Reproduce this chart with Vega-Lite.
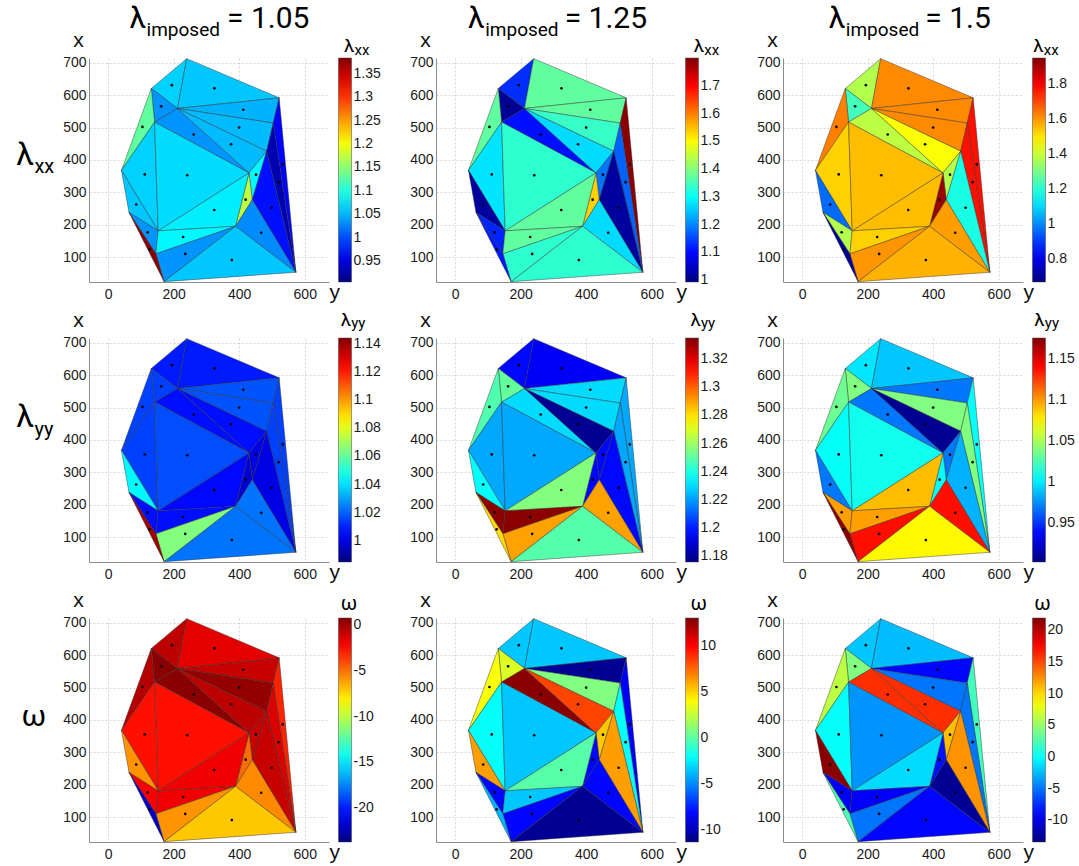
{
"$schema": "https://vega.github.io/schema/vega-lite/v6.json",
"padding": {"left": 16, "top": 4, "right": 4, "bottom": 4},
"background": "white",
"config": {
 "view": {"stroke": null},
 "axis": {"labelFont": "Liberation Sans", "labelFontSize": 14, "labelColor": "#1a1a1a", "labelOverlap": false, "labelFlush": false, "tickCount": 12, "titleFont": "Liberation Sans", "titleFontWeight": "normal", "titleColor": "#111111", "titleFontSize": 21, "domainColor": "#8c8c8c", "grid": true, "gridColor": "#cccccc", "gridDash": [2, 2], "gridWidth": 0.8, "ticks": false, "tickSize": 0},
 "axisX": {"labelPadding": 5, "titleAngle": 0, "titleAlign": "left", "titleBaseline": "alphabetic", "titleX": 240, "titleY": 16},
 "axisY": {"labelPadding": 3, "titleAngle": 0, "titleAlign": "center", "titleBaseline": "alphabetic", "titleX": -11, "titleY": -11.7},
 "legend": {"padding": 0, "labelFont": "Liberation Sans", "labelFontSize": 14, "labelColor": "#1a1a1a", "labelOffset": 3, "labelOverlap": false, "gradientStrokeColor": "#444444", "gradientStrokeWidth": 0.5}
},
"datasets": {
 "mesh": [
  {"tri":1,"k":1,"y":240,"x":713},{"tri":1,"k":2,"y":132,"x":621},{"tri":1,"k":3,"y":212,"x":559},
  {"tri":2,"k":1,"y":240,"x":713},{"tri":2,"k":2,"y":212,"x":559},{"tri":2,"k":3,"y":522,"x":592},
  {"tri":3,"k":1,"y":132,"x":621},{"tri":3,"k":2,"y":212,"x":559},{"tri":3,"k":3,"y":142,"x":517},
  {"tri":4,"k":1,"y":212,"x":559},{"tri":4,"k":2,"y":522,"x":592},{"tri":4,"k":3,"y":504,"x":514},
  {"tri":5,"k":1,"y":132,"x":621},{"tri":5,"k":2,"y":142,"x":517},{"tri":5,"k":3,"y":41,"x":368},
  {"tri":6,"k":1,"y":212,"x":559},{"tri":6,"k":2,"y":142,"x":517},{"tri":6,"k":3,"y":430,"x":360},
  {"tri":7,"k":1,"y":212,"x":559},{"tri":7,"k":2,"y":504,"x":514},{"tri":7,"k":3,"y":484,"x":427},
  {"tri":8,"k":1,"y":212,"x":559},{"tri":8,"k":2,"y":484,"x":427},{"tri":8,"k":3,"y":430,"x":360},
  {"tri":9,"k":1,"y":142,"x":517},{"tri":9,"k":2,"y":41,"x":368},{"tri":9,"k":3,"y":153,"x":181},
  {"tri":10,"k":1,"y":142,"x":517},{"tri":10,"k":2,"y":430,"x":360},{"tri":10,"k":3,"y":153,"x":181},
  {"tri":11,"k":1,"y":484,"x":427},{"tri":11,"k":2,"y":430,"x":360},{"tri":11,"k":3,"y":440,"x":277},
  {"tri":12,"k":1,"y":522,"x":592},{"tri":12,"k":2,"y":504,"x":514},{"tri":12,"k":3,"y":573,"x":53},
  {"tri":13,"k":1,"y":504,"x":514},{"tri":13,"k":2,"y":484,"x":427},{"tri":13,"k":3,"y":573,"x":53},
  {"tri":14,"k":1,"y":41,"x":368},{"tri":14,"k":2,"y":64,"x":238},{"tri":14,"k":3,"y":153,"x":181},
  {"tri":15,"k":1,"y":430,"x":360},{"tri":15,"k":2,"y":440,"x":277},{"tri":15,"k":3,"y":389,"x":195},
  {"tri":16,"k":1,"y":430,"x":360},{"tri":16,"k":2,"y":153,"x":181},{"tri":16,"k":3,"y":389,"x":195},
  {"tri":17,"k":1,"y":484,"x":427},{"tri":17,"k":2,"y":440,"x":277},{"tri":17,"k":3,"y":573,"x":53},
  {"tri":18,"k":1,"y":64,"x":238},{"tri":18,"k":2,"y":153,"x":181},{"tri":18,"k":3,"y":146,"x":110},
  {"tri":19,"k":1,"y":153,"x":181},{"tri":19,"k":2,"y":389,"x":195},{"tri":19,"k":3,"y":146,"x":110},
  {"tri":20,"k":1,"y":440,"x":277},{"tri":20,"k":2,"y":389,"x":195},{"tri":20,"k":3,"y":573,"x":53},
  {"tri":21,"k":1,"y":389,"x":195},{"tri":21,"k":2,"y":146,"x":110},{"tri":21,"k":3,"y":171,"x":24},
  {"tri":22,"k":1,"y":389,"x":195},{"tri":22,"k":2,"y":171,"x":24},{"tri":22,"k":3,"y":573,"x":53},
  {"tri":23,"k":1,"y":64,"x":238},{"tri":23,"k":2,"y":146,"x":110},{"tri":23,"k":3,"y":171,"x":24}
 ],
 "vals": [
  {"tri":1,"lxx105":1.063,"lxx125":1.130,"lxx150":1.372,"lyy105":1.009,"lyy125":1.197,"lyy150":0.998,"w105":-0.67,"w125":-3.50,"w150":-2.10},
  {"tri":2,"lxx105":1.058,"lxx125":1.372,"lxx150":1.614,"lyy105":1.009,"lyy125":1.195,"lyy150":0.990,"w105":-1.65,"w125":-3.50,"w150":-2.46},
  {"tri":3,"lxx105":1.034,"lxx125":1.009,"lxx150":1.232,"lyy105":1.015,"lyy125":1.251,"lyy150":1.039,"w105":0.55,"w125":3.05,"w150":4.25},
  {"tri":4,"lxx105":1.049,"lxx125":1.372,"lxx150":1.614,"lyy105":1.018,"lyy125":1.230,"lyy150":0.968,"w105":-0.92,"w125":-10.77,"w150":-8.81},
  {"tri":5,"lxx105":1.130,"lxx125":1.372,"lxx150":1.627,"lyy105":1.015,"lyy125":1.248,"lyy150":1.034,"w105":-0.43,"w125":3.78,"w150":6.37},
  {"tri":6,"lxx105":1.034,"lxx125":1.106,"lxx150":1.385,"lyy105":1.007,"lyy125":1.230,"lyy150":0.968,"w105":0.55,"w125":12.76,"w150":15.90},
  {"tri":7,"lxx105":1.053,"lxx125":1.340,"lxx150":1.614,"lyy105":1.018,"lyy125":1.230,"lyy150":1.039,"w105":0.31,"w125":0.87,"w150":-4.93},
  {"tri":8,"lxx105":1.053,"lxx125":1.267,"lxx150":1.461,"lyy105":1.007,"lyy125":1.179,"lyy150":0.907,"w105":-0.67,"w125":8.39,"w150":15.90},
  {"tri":9,"lxx105":1.063,"lxx125":1.275,"lxx150":1.525,"lyy105":1.015,"lyy125":1.222,"lyy150":1.006,"w105":-2.64,"w125":-2.04,"w150":0.01},
  {"tri":10,"lxx105":1.068,"lxx125":1.332,"lxx150":1.550,"lyy105":1.017,"lyy125":1.222,"lyy150":1.009,"w105":-2.64,"w125":-3.50,"w150":-3.87},
  {"tri":11,"lxx105":1.082,"lxx125":1.187,"lxx150":1.372,"lyy105":1.001,"lyy125":1.197,"lyy150":0.968,"w105":-0.92,"w125":5.24,"w150":10.96},
  {"tri":12,"lxx105":0.967,"lxx125":1.792,"lxx150":1.767,"lyy105":1.015,"lyy125":1.222,"lyy150":1.006,"w105":-3.13,"w125":-8.35,"w150":2.13},
  {"tri":13,"lxx105":0.929,"lxx125":1.171,"lxx150":1.767,"lyy105":1.015,"lyy125":1.222,"lyy150":1.039,"w105":-1.41,"w125":-2.04,"w150":-4.93},
  {"tri":14,"lxx105":1.058,"lxx125":1.017,"lxx150":0.965,"lyy105":1.044,"lyy125":1.236,"lyy150":0.968,"w105":-5.83,"w125":6.21,"w150":21.55},
  {"tri":15,"lxx105":1.173,"lxx125":1.534,"lxx150":1.907,"lyy105":0.998,"lyy125":1.197,"lyy150":1.006,"w105":-4.85,"w125":-8.11,"w150":-8.46},
  {"tri":16,"lxx105":1.077,"lxx125":1.372,"lxx150":1.550,"lyy105":1.006,"lyy125":1.256,"lyy150":1.091,"w105":-1.90,"w125":-0.10,"w150":-1.40},
  {"tri":17,"lxx105":0.972,"lxx125":1.017,"lxx150":1.181,"lyy105":1.001,"lyy125":1.197,"lyy150":0.984,"w105":-0.92,"w125":6.21,"w150":12.37},
  {"tri":18,"lxx105":1.034,"lxx125":1.122,"lxx150":1.372,"lyy105":1.007,"lyy125":1.333,"lyy150":1.099,"w105":-2.15,"w125":-8.11,"w150":-9.16},
  {"tri":19,"lxx105":1.082,"lxx125":1.372,"lxx150":1.525,"lyy105":1.007,"lyy125":1.333,"lyy150":1.099,"w105":-1.90,"w125":-3.50,"w150":-9.16},
  {"tri":20,"lxx105":1.030,"lxx125":1.267,"lxx150":1.589,"lyy105":1.023,"lyy125":1.290,"lyy150":1.138,"w105":-5.58,"w125":-8.11,"w150":-12.69},
  {"tri":21,"lxx105":1.034,"lxx125":1.332,"lxx150":1.601,"lyy105":1.065,"lyy125":1.290,"lyy150":1.138,"w105":-5.83,"w125":-8.11,"w150":-4.93},
  {"tri":22,"lxx105":1.058,"lxx125":1.332,"lxx150":1.563,"lyy105":1.023,"lyy125":1.249,"lyy150":1.075,"w105":-7.06,"w125":-10.77,"w150":-8.81},
  {"tri":23,"lxx105":1.379,"lxx125":1.114,"lxx150":0.697,"lyy105":1.139,"lyy125":1.281,"lyy150":1.173,"w105":-22.03,"w125":-3.98,"w150":2.49}
 ]
},
"columns": 3,
"spacing": {"row": 56, "column": 107},
"bounds": "flush",
"resolve": {"scale": {"fill": "independent"}, "legend": {"fill": "independent"}},
"concat": [
 {"width": 240, "height": 224, "layer": [
  {"data": {"name": "mesh"}, "transform": [{"lookup": "tri", "from": {"data": {"name": "vals"}, "key": "tri", "fields": ["lxx105"]}}],
   "mark": {"type": "line", "interpolate": "linear-closed", "stroke": "#303030", "strokeWidth": 0.5, "strokeOpacity": 0.9},
   "encoding": {
    "x": {"field": "y", "type": "quantitative", "scale": {"domain": [-58, 674], "nice": false, "zero": false}, "axis": {"title": "y", "values": [0, 200, 400, 600], "tickCount": 12}},
    "y": {"field": "x", "type": "quantitative", "scale": {"domain": [23, 715], "nice": false, "zero": false}, "axis": {"title": "x", "values": [100, 200, 300, 400, 500, 600, 700], "tickCount": 12}},
    "detail": {"field": "tri", "type": "nominal"}, "order": {"field": "k", "type": "quantitative"},
    "fill": {"field": "lxx105", "type": "quantitative", "scale": {"domain": [0.905,0.9649,1.0248,1.0846,1.1445,1.2044,1.2643,1.3241,1.384], "range": ["#000080","#0000ff","#0080ff","#00ffff","#80ff80","#ffff00","#ff8000","#ff0000","#800000"], "interpolate": "rgb", "zero": false, "nice": false},
     "legend": {"title": null, "orient": "none", "legendX": 249.5, "legendY": 0, "gradientLength": 224, "gradientThickness": 13, "values": [0.95,1,1.05,1.1,1.15,1.2,1.25,1.3,1.35], "labelExpr": "datum.value + ''"}}
   }},
  {"data": {"name": "mesh"}, "mark": {"type": "circle", "size": 7, "color": "#000000", "opacity": 1},
   "encoding": {"x": {"aggregate": "mean", "field": "y", "type": "quantitative"}, "y": {"aggregate": "mean", "field": "x", "type": "quantitative"}, "detail": {"field": "tri", "type": "nominal"}}},
  {"data": {"values": [{}]}, "mark": {"type": "text", "text": "λ", "font": "Roboto", "fontSize": 19, "align": "left", "baseline": "alphabetic", "dx": 15, "dy": -5.7, "color": "#000000"}, "encoding": {"x": {"datum": 674}, "y": {"datum": 715}}},
  {"data": {"values": [{}]}, "mark": {"type": "text", "text": "xx", "font": "Roboto", "fontSize": 15, "align": "left", "baseline": "alphabetic", "dx": 25.5, "dy": -3.3, "color": "#000000"}, "encoding": {"x": {"datum": 674}, "y": {"datum": 715}}},
  {"data": {"values": [{}]}, "mark": {"type": "text", "text": "λ", "font": "Roboto", "fontSize": 30, "align": "right", "baseline": "alphabetic", "dy": -30, "color": "#000000"}, "encoding": {"x": {"datum": 116}, "y": {"datum": 715}}},
  {"data": {"values": [{}]}, "mark": {"type": "text", "text": "imposed", "font": "Roboto", "fontSize": 19, "align": "left", "baseline": "alphabetic", "dx": 0.5, "dy": -22.3, "color": "#000000"}, "encoding": {"x": {"datum": 116}, "y": {"datum": 715}}},
  {"data": {"values": [{}]}, "mark": {"type": "text", "text": "= 1.05", "font": "Roboto", "fontSize": 30, "align": "left", "baseline": "alphabetic", "dx": 81, "dy": -30, "color": "#000000"}, "encoding": {"x": {"datum": 116}, "y": {"datum": 715}}},
  {"data": {"values": [{}]}, "mark": {"type": "text", "text": "λ", "font": "Roboto", "fontSize": 32, "align": "right", "baseline": "alphabetic", "dy": 106.7, "color": "#000000"}, "encoding": {"x": {"datum": -226}, "y": {"datum": 715}}},
  {"data": {"values": [{}]}, "mark": {"type": "text", "text": "xx", "font": "Roboto", "fontSize": 20, "align": "left", "baseline": "alphabetic", "dx": 0.5, "dy": 115, "color": "#000000"}, "encoding": {"x": {"datum": -226}, "y": {"datum": 715}}}
 ]},
 {"width": 240, "height": 224, "layer": [
  {"data": {"name": "mesh"}, "transform": [{"lookup": "tri", "from": {"data": {"name": "vals"}, "key": "tri", "fields": ["lxx125"]}}],
   "mark": {"type": "line", "interpolate": "linear-closed", "stroke": "#303030", "strokeWidth": 0.5, "strokeOpacity": 0.9},
   "encoding": {
    "x": {"field": "y", "type": "quantitative", "scale": {"domain": [-58, 674], "nice": false, "zero": false}, "axis": {"title": "y", "values": [0, 200, 400, 600], "tickCount": 12}},
    "y": {"field": "x", "type": "quantitative", "scale": {"domain": [23, 715], "nice": false, "zero": false}, "axis": {"title": "x", "values": [100, 200, 300, 400, 500, 600, 700], "tickCount": 12}},
    "detail": {"field": "tri", "type": "nominal"}, "order": {"field": "k", "type": "quantitative"},
    "fill": {"field": "lxx125", "type": "quantitative", "scale": {"domain": [0.993,1.0939,1.1948,1.2956,1.3965,1.4974,1.5983,1.6991,1.8], "range": ["#000080","#0000ff","#0080ff","#00ffff","#80ff80","#ffff00","#ff8000","#ff0000","#800000"], "interpolate": "rgb", "zero": false, "nice": false},
     "legend": {"title": null, "orient": "none", "legendX": 249.5, "legendY": 0, "gradientLength": 224, "gradientThickness": 13, "values": [1,1.1,1.2,1.3,1.4,1.5,1.6,1.7], "labelExpr": "datum.value + ''"}}
   }},
  {"data": {"name": "mesh"}, "mark": {"type": "circle", "size": 7, "color": "#000000", "opacity": 1},
   "encoding": {"x": {"aggregate": "mean", "field": "y", "type": "quantitative"}, "y": {"aggregate": "mean", "field": "x", "type": "quantitative"}, "detail": {"field": "tri", "type": "nominal"}}},
  {"data": {"values": [{}]}, "mark": {"type": "text", "text": "λ", "font": "Roboto", "fontSize": 19, "align": "left", "baseline": "alphabetic", "dx": 17.7, "dy": -5.7, "color": "#000000"}, "encoding": {"x": {"datum": 674}, "y": {"datum": 715}}},
  {"data": {"values": [{}]}, "mark": {"type": "text", "text": "xx", "font": "Roboto", "fontSize": 15, "align": "left", "baseline": "alphabetic", "dx": 28.2, "dy": -3.3, "color": "#000000"}, "encoding": {"x": {"datum": 674}, "y": {"datum": 715}}},
  {"data": {"values": [{}]}, "mark": {"type": "text", "text": "λ", "font": "Roboto", "fontSize": 30, "align": "right", "baseline": "alphabetic", "dy": -30, "color": "#000000"}, "encoding": {"x": {"datum": 90.5}, "y": {"datum": 715}}},
  {"data": {"values": [{}]}, "mark": {"type": "text", "text": "imposed", "font": "Roboto", "fontSize": 19, "align": "left", "baseline": "alphabetic", "dx": 0.5, "dy": -22.3, "color": "#000000"}, "encoding": {"x": {"datum": 90.5}, "y": {"datum": 715}}},
  {"data": {"values": [{}]}, "mark": {"type": "text", "text": "= 1.25", "font": "Roboto", "fontSize": 30, "align": "left", "baseline": "alphabetic", "dx": 80, "dy": -30, "color": "#000000"}, "encoding": {"x": {"datum": 90.5}, "y": {"datum": 715}}}
 ]},
 {"width": 240, "height": 224, "layer": [
  {"data": {"name": "mesh"}, "transform": [{"lookup": "tri", "from": {"data": {"name": "vals"}, "key": "tri", "fields": ["lxx150"]}}],
   "mark": {"type": "line", "interpolate": "linear-closed", "stroke": "#303030", "strokeWidth": 0.5, "strokeOpacity": 0.9},
   "encoding": {
    "x": {"field": "y", "type": "quantitative", "scale": {"domain": [-58, 674], "nice": false, "zero": false}, "axis": {"title": "y", "values": [0, 200, 400, 600], "tickCount": 12}},
    "y": {"field": "x", "type": "quantitative", "scale": {"domain": [23, 715], "nice": false, "zero": false}, "axis": {"title": "x", "values": [100, 200, 300, 400, 500, 600, 700], "tickCount": 12}},
    "detail": {"field": "tri", "type": "nominal"}, "order": {"field": "k", "type": "quantitative"},
    "fill": {"field": "lxx150", "type": "quantitative", "scale": {"domain": [0.672,0.8311,0.9903,1.1494,1.3085,1.4676,1.6268,1.7859,1.945], "range": ["#000080","#0000ff","#0080ff","#00ffff","#80ff80","#ffff00","#ff8000","#ff0000","#800000"], "interpolate": "rgb", "zero": false, "nice": false},
     "legend": {"title": null, "orient": "none", "legendX": 249.5, "legendY": 0, "gradientLength": 224, "gradientThickness": 13, "values": [0.8,1,1.2,1.4,1.6,1.8], "labelExpr": "datum.value + ''"}}
   }},
  {"data": {"name": "mesh"}, "mark": {"type": "circle", "size": 7, "color": "#000000", "opacity": 1},
   "encoding": {"x": {"aggregate": "mean", "field": "y", "type": "quantitative"}, "y": {"aggregate": "mean", "field": "x", "type": "quantitative"}, "detail": {"field": "tri", "type": "nominal"}}},
  {"data": {"values": [{}]}, "mark": {"type": "text", "text": "λ", "font": "Roboto", "fontSize": 19, "align": "left", "baseline": "alphabetic", "dx": 10.3, "dy": -5.7, "color": "#000000"}, "encoding": {"x": {"datum": 674}, "y": {"datum": 715}}},
  {"data": {"values": [{}]}, "mark": {"type": "text", "text": "xx", "font": "Roboto", "fontSize": 15, "align": "left", "baseline": "alphabetic", "dx": 20.8, "dy": -3.3, "color": "#000000"}, "encoding": {"x": {"datum": 674}, "y": {"datum": 715}}},
  {"data": {"values": [{}]}, "mark": {"type": "text", "text": "λ", "font": "Roboto", "fontSize": 30, "align": "right", "baseline": "alphabetic", "dy": -30, "color": "#000000"}, "encoding": {"x": {"datum": 132}, "y": {"datum": 715}}},
  {"data": {"values": [{}]}, "mark": {"type": "text", "text": "imposed", "font": "Roboto", "fontSize": 19, "align": "left", "baseline": "alphabetic", "dx": 0.5, "dy": -22.3, "color": "#000000"}, "encoding": {"x": {"datum": 132}, "y": {"datum": 715}}},
  {"data": {"values": [{}]}, "mark": {"type": "text", "text": "= 1.5", "font": "Roboto", "fontSize": 30, "align": "left", "baseline": "alphabetic", "dx": 80, "dy": -30, "color": "#000000"}, "encoding": {"x": {"datum": 132}, "y": {"datum": 715}}}
 ]},
 {"width": 240, "height": 224, "layer": [
  {"data": {"name": "mesh"}, "transform": [{"lookup": "tri", "from": {"data": {"name": "vals"}, "key": "tri", "fields": ["lyy105"]}}],
   "mark": {"type": "line", "interpolate": "linear-closed", "stroke": "#303030", "strokeWidth": 0.5, "strokeOpacity": 0.9},
   "encoding": {
    "x": {"field": "y", "type": "quantitative", "scale": {"domain": [-58, 674], "nice": false, "zero": false}, "axis": {"title": "y", "values": [0, 200, 400, 600], "tickCount": 12}},
    "y": {"field": "x", "type": "quantitative", "scale": {"domain": [23, 715], "nice": false, "zero": false}, "axis": {"title": "x", "values": [100, 200, 300, 400, 500, 600, 700], "tickCount": 12}},
    "detail": {"field": "tri", "type": "nominal"}, "order": {"field": "k", "type": "quantitative"},
    "fill": {"field": "lyy105", "type": "quantitative", "scale": {"domain": [0.985,1.0049,1.0248,1.0446,1.0645,1.0844,1.1043,1.1241,1.144], "range": ["#000080","#0000ff","#0080ff","#00ffff","#80ff80","#ffff00","#ff8000","#ff0000","#800000"], "interpolate": "rgb", "zero": false, "nice": false},
     "legend": {"title": null, "orient": "none", "legendX": 249.5, "legendY": 0, "gradientLength": 224, "gradientThickness": 13, "values": [1,1.02,1.04,1.06,1.08,1.1,1.12,1.14], "labelExpr": "datum.value + ''"}}
   }},
  {"data": {"name": "mesh"}, "mark": {"type": "circle", "size": 7, "color": "#000000", "opacity": 1},
   "encoding": {"x": {"aggregate": "mean", "field": "y", "type": "quantitative"}, "y": {"aggregate": "mean", "field": "x", "type": "quantitative"}, "detail": {"field": "tri", "type": "nominal"}}},
  {"data": {"values": [{}]}, "mark": {"type": "text", "text": "λ", "font": "Roboto", "fontSize": 19, "align": "left", "baseline": "alphabetic", "dx": 11.7, "dy": -12, "color": "#000000"}, "encoding": {"x": {"datum": 674}, "y": {"datum": 715}}},
  {"data": {"values": [{}]}, "mark": {"type": "text", "text": "yy", "font": "Roboto", "fontSize": 15, "align": "left", "baseline": "alphabetic", "dx": 22.2, "dy": -10.5, "color": "#000000"}, "encoding": {"x": {"datum": 674}, "y": {"datum": 715}}},
  {"data": {"values": [{}]}, "mark": {"type": "text", "text": "λ", "font": "Roboto", "fontSize": 32, "align": "right", "baseline": "alphabetic", "dy": 89, "color": "#000000"}, "encoding": {"x": {"datum": -226}, "y": {"datum": 715}}},
  {"data": {"values": [{}]}, "mark": {"type": "text", "text": "yy", "font": "Roboto", "fontSize": 20, "align": "left", "baseline": "alphabetic", "dx": 0.5, "dy": 98, "color": "#000000"}, "encoding": {"x": {"datum": -226}, "y": {"datum": 715}}}
 ]},
 {"width": 240, "height": 224, "layer": [
  {"data": {"name": "mesh"}, "transform": [{"lookup": "tri", "from": {"data": {"name": "vals"}, "key": "tri", "fields": ["lyy125"]}}],
   "mark": {"type": "line", "interpolate": "linear-closed", "stroke": "#303030", "strokeWidth": 0.5, "strokeOpacity": 0.9},
   "encoding": {
    "x": {"field": "y", "type": "quantitative", "scale": {"domain": [-58, 674], "nice": false, "zero": false}, "axis": {"title": "y", "values": [0, 200, 400, 600], "tickCount": 12}},
    "y": {"field": "x", "type": "quantitative", "scale": {"domain": [23, 715], "nice": false, "zero": false}, "axis": {"title": "x", "values": [100, 200, 300, 400, 500, 600, 700], "tickCount": 12}},
    "detail": {"field": "tri", "type": "nominal"}, "order": {"field": "k", "type": "quantitative"},
    "fill": {"field": "lyy125", "type": "quantitative", "scale": {"domain": [1.176,1.1959,1.2158,1.2356,1.2555,1.2754,1.2953,1.3151,1.335], "range": ["#000080","#0000ff","#0080ff","#00ffff","#80ff80","#ffff00","#ff8000","#ff0000","#800000"], "interpolate": "rgb", "zero": false, "nice": false},
     "legend": {"title": null, "orient": "none", "legendX": 249.5, "legendY": 0, "gradientLength": 224, "gradientThickness": 13, "values": [1.18,1.2,1.22,1.24,1.26,1.28,1.3,1.32], "labelExpr": "datum.value + ''"}}
   }},
  {"data": {"name": "mesh"}, "mark": {"type": "circle", "size": 7, "color": "#000000", "opacity": 1},
   "encoding": {"x": {"aggregate": "mean", "field": "y", "type": "quantitative"}, "y": {"aggregate": "mean", "field": "x", "type": "quantitative"}, "detail": {"field": "tri", "type": "nominal"}}},
  {"data": {"values": [{}]}, "mark": {"type": "text", "text": "λ", "font": "Roboto", "fontSize": 19, "align": "left", "baseline": "alphabetic", "dx": 14.4, "dy": -12, "color": "#000000"}, "encoding": {"x": {"datum": 674}, "y": {"datum": 715}}},
  {"data": {"values": [{}]}, "mark": {"type": "text", "text": "yy", "font": "Roboto", "fontSize": 15, "align": "left", "baseline": "alphabetic", "dx": 24.9, "dy": -10.5, "color": "#000000"}, "encoding": {"x": {"datum": 674}, "y": {"datum": 715}}}
 ]},
 {"width": 240, "height": 224, "layer": [
  {"data": {"name": "mesh"}, "transform": [{"lookup": "tri", "from": {"data": {"name": "vals"}, "key": "tri", "fields": ["lyy150"]}}],
   "mark": {"type": "line", "interpolate": "linear-closed", "stroke": "#303030", "strokeWidth": 0.5, "strokeOpacity": 0.9},
   "encoding": {
    "x": {"field": "y", "type": "quantitative", "scale": {"domain": [-58, 674], "nice": false, "zero": false}, "axis": {"title": "y", "values": [0, 200, 400, 600], "tickCount": 12}},
    "y": {"field": "x", "type": "quantitative", "scale": {"domain": [23, 715], "nice": false, "zero": false}, "axis": {"title": "x", "values": [100, 200, 300, 400, 500, 600, 700], "tickCount": 12}},
    "detail": {"field": "tri", "type": "nominal"}, "order": {"field": "k", "type": "quantitative"},
    "fill": {"field": "lyy150", "type": "quantitative", "scale": {"domain": [0.902,0.9363,0.9705,1.0048,1.039,1.0733,1.1075,1.1418,1.176], "range": ["#000080","#0000ff","#0080ff","#00ffff","#80ff80","#ffff00","#ff8000","#ff0000","#800000"], "interpolate": "rgb", "zero": false, "nice": false},
     "legend": {"title": null, "orient": "none", "legendX": 249.5, "legendY": 0, "gradientLength": 224, "gradientThickness": 13, "values": [0.95,1,1.05,1.1,1.15], "labelExpr": "datum.value + ''"}}
   }},
  {"data": {"name": "mesh"}, "mark": {"type": "circle", "size": 7, "color": "#000000", "opacity": 1},
   "encoding": {"x": {"aggregate": "mean", "field": "y", "type": "quantitative"}, "y": {"aggregate": "mean", "field": "x", "type": "quantitative"}, "detail": {"field": "tri", "type": "nominal"}}},
  {"data": {"values": [{}]}, "mark": {"type": "text", "text": "λ", "font": "Roboto", "fontSize": 19, "align": "left", "baseline": "alphabetic", "dx": 11.3, "dy": -12, "color": "#000000"}, "encoding": {"x": {"datum": 674}, "y": {"datum": 715}}},
  {"data": {"values": [{}]}, "mark": {"type": "text", "text": "yy", "font": "Roboto", "fontSize": 15, "align": "left", "baseline": "alphabetic", "dx": 21.8, "dy": -10.5, "color": "#000000"}, "encoding": {"x": {"datum": 674}, "y": {"datum": 715}}}
 ]},
 {"width": 240, "height": 224, "layer": [
  {"data": {"name": "mesh"}, "transform": [{"lookup": "tri", "from": {"data": {"name": "vals"}, "key": "tri", "fields": ["w105"]}}],
   "mark": {"type": "line", "interpolate": "linear-closed", "stroke": "#303030", "strokeWidth": 0.5, "strokeOpacity": 0.9},
   "encoding": {
    "x": {"field": "y", "type": "quantitative", "scale": {"domain": [-58, 674], "nice": false, "zero": false}, "axis": {"title": "y", "values": [0, 200, 400, 600], "tickCount": 12}},
    "y": {"field": "x", "type": "quantitative", "scale": {"domain": [23, 715], "nice": false, "zero": false}, "axis": {"title": "x", "values": [100, 200, 300, 400, 500, 600, 700], "tickCount": 12}},
    "detail": {"field": "tri", "type": "nominal"}, "order": {"field": "k", "type": "quantitative"},
    "fill": {"field": "w105", "type": "quantitative", "scale": {"domain": [-23.75,-20.681,-17.613,-14.544,-11.475,-8.406,-5.338,-2.269,0.8], "range": ["#000080","#0000ff","#0080ff","#00ffff","#80ff80","#ffff00","#ff8000","#ff0000","#800000"], "interpolate": "rgb", "zero": false, "nice": false},
     "legend": {"title": null, "orient": "none", "legendX": 249.5, "legendY": 0, "gradientLength": 224, "gradientThickness": 13, "values": [-20,-15,-10,-5,0], "labelExpr": "datum.value + ''"}}
   }},
  {"data": {"name": "mesh"}, "mark": {"type": "circle", "size": 7, "color": "#000000", "opacity": 1},
   "encoding": {"x": {"aggregate": "mean", "field": "y", "type": "quantitative"}, "y": {"aggregate": "mean", "field": "x", "type": "quantitative"}, "detail": {"field": "tri", "type": "nominal"}}},
  {"data": {"values": [{}]}, "mark": {"type": "text", "text": "ω", "font": "Roboto", "fontSize": 20, "align": "left", "baseline": "alphabetic", "dx": 11.7, "dy": -8.5, "color": "#000000"}, "encoding": {"x": {"datum": 674}, "y": {"datum": 715}}},
  {"data": {"values": [{}]}, "mark": {"type": "text", "text": "ω", "font": "Roboto", "fontSize": 30, "align": "center", "baseline": "alphabetic", "dy": 107.7, "color": "#000000"}, "encoding": {"x": {"datum": -226}, "y": {"datum": 715}}}
 ]},
 {"width": 240, "height": 224, "layer": [
  {"data": {"name": "mesh"}, "transform": [{"lookup": "tri", "from": {"data": {"name": "vals"}, "key": "tri", "fields": ["w125"]}}],
   "mark": {"type": "line", "interpolate": "linear-closed", "stroke": "#303030", "strokeWidth": 0.5, "strokeOpacity": 0.9},
   "encoding": {
    "x": {"field": "y", "type": "quantitative", "scale": {"domain": [-58, 674], "nice": false, "zero": false}, "axis": {"title": "y", "values": [0, 200, 400, 600], "tickCount": 12}},
    "y": {"field": "x", "type": "quantitative", "scale": {"domain": [23, 715], "nice": false, "zero": false}, "axis": {"title": "x", "values": [100, 200, 300, 400, 500, 600, 700], "tickCount": 12}},
    "detail": {"field": "tri", "type": "nominal"}, "order": {"field": "k", "type": "quantitative"},
    "fill": {"field": "w125", "type": "quantitative", "scale": {"domain": [-11.26,-8.2275,-5.195,-2.1625,0.87,3.9025,6.935,9.9675,13], "range": ["#000080","#0000ff","#0080ff","#00ffff","#80ff80","#ffff00","#ff8000","#ff0000","#800000"], "interpolate": "rgb", "zero": false, "nice": false},
     "legend": {"title": null, "orient": "none", "legendX": 249.5, "legendY": 0, "gradientLength": 224, "gradientThickness": 13, "values": [-10,-5,0,5,10], "labelExpr": "datum.value + ''"}}
   }},
  {"data": {"name": "mesh"}, "mark": {"type": "circle", "size": 7, "color": "#000000", "opacity": 1},
   "encoding": {"x": {"aggregate": "mean", "field": "y", "type": "quantitative"}, "y": {"aggregate": "mean", "field": "x", "type": "quantitative"}, "detail": {"field": "tri", "type": "nominal"}}},
  {"data": {"values": [{}]}, "mark": {"type": "text", "text": "ω", "font": "Roboto", "fontSize": 20, "align": "left", "baseline": "alphabetic", "dx": 14.4, "dy": -8.5, "color": "#000000"}, "encoding": {"x": {"datum": 674}, "y": {"datum": 715}}}
 ]},
 {"width": 240, "height": 224, "layer": [
  {"data": {"name": "mesh"}, "transform": [{"lookup": "tri", "from": {"data": {"name": "vals"}, "key": "tri", "fields": ["w150"]}}],
   "mark": {"type": "line", "interpolate": "linear-closed", "stroke": "#303030", "strokeWidth": 0.5, "strokeOpacity": 0.9},
   "encoding": {
    "x": {"field": "y", "type": "quantitative", "scale": {"domain": [-58, 674], "nice": false, "zero": false}, "axis": {"title": "y", "values": [0, 200, 400, 600], "tickCount": 12}},
    "y": {"field": "x", "type": "quantitative", "scale": {"domain": [23, 715], "nice": false, "zero": false}, "axis": {"title": "x", "values": [100, 200, 300, 400, 500, 600, 700], "tickCount": 12}},
    "detail": {"field": "tri", "type": "nominal"}, "order": {"field": "k", "type": "quantitative"},
    "fill": {"field": "w150", "type": "quantitative", "scale": {"domain": [-13.4,-8.9875,-4.575,-0.1625,4.25,8.6625,13.075,17.4875,21.9], "range": ["#000080","#0000ff","#0080ff","#00ffff","#80ff80","#ffff00","#ff8000","#ff0000","#800000"], "interpolate": "rgb", "zero": false, "nice": false},
     "legend": {"title": null, "orient": "none", "legendX": 249.5, "legendY": 0, "gradientLength": 224, "gradientThickness": 13, "values": [-10,-5,0,5,10,15,20], "labelExpr": "datum.value + ''"}}
   }},
  {"data": {"name": "mesh"}, "mark": {"type": "circle", "size": 7, "color": "#000000", "opacity": 1},
   "encoding": {"x": {"aggregate": "mean", "field": "y", "type": "quantitative"}, "y": {"aggregate": "mean", "field": "x", "type": "quantitative"}, "detail": {"field": "tri", "type": "nominal"}}},
  {"data": {"values": [{}]}, "mark": {"type": "text", "text": "ω", "font": "Roboto", "fontSize": 20, "align": "left", "baseline": "alphabetic", "dx": 11.3, "dy": -8.5, "color": "#000000"}, "encoding": {"x": {"datum": 674}, "y": {"datum": 715}}}
 ]}
]
}
